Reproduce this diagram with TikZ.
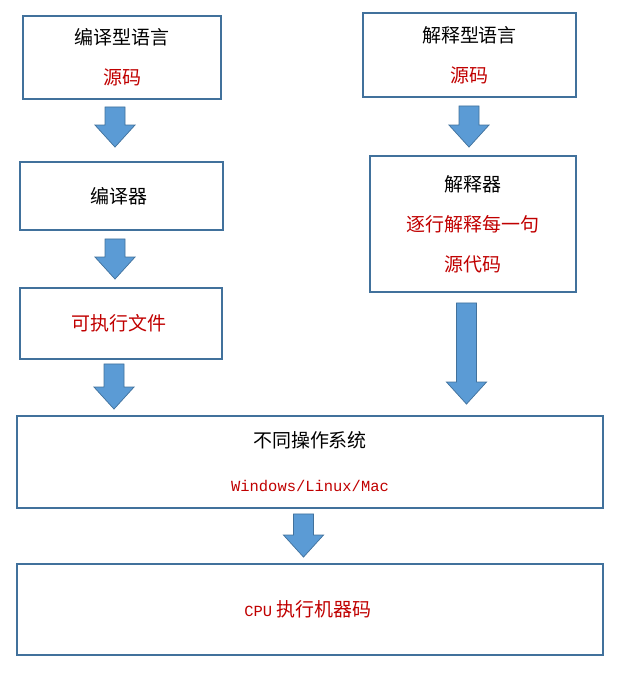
\documentclass[tikz,border=0pt]{standalone}
\usepackage{fontspec}
\setmainfont{Noto Sans CJK SC}
\newfontfamily\latinmono{Liberation Mono}
\usetikzlibrary{calc}
\definecolor{boxline}{RGB}{65,113,156}
\definecolor{arrowfill}{RGB}{91,155,213}
\definecolor{textred}{RGB}{192,0,0}
\newcommand{\monotext}[1]{{\latinmono\fontsize{11}{28.5}\selectfont #1}}
% block arrow from top of the shaft (#1) down to the tip (#2)
\newcommand{\blockarrow}[2]{
    \draw[bigarrow] let \p1=(#1), \p2=(#2) in
        (\x1-0.25cm,\y1) -- (\x1-0.25cm,\y2+0.55cm) -- (\x1-0.5cm,\y2+0.55cm) -- (\x1,\y2)
        -- (\x1+0.5cm,\y2+0.55cm) -- (\x1+0.25cm,\y2+0.55cm) -- (\x1+0.25cm,\y1) -- cycle;
}

\begin{document}
\begin{tikzpicture}[
        box/.style={rectangle, draw=boxline, line width=1.3pt, align=center, inner sep=0pt,
            font=\fontsize{13.5}{28.5}\selectfont},
        bigarrow/.style={draw=boxline, fill=arrowfill, line width=0.5pt, line join=miter}
    ]
        \useasboundingbox (0,0) rectangle (15.8,-16.875);

        % Boxes
        \node[box, minimum width=4.95cm, minimum height=2.075cm] (compiled) at (3.05,-1.4375) {
            编译型语言\\
            \textcolor{textred}{源码}
        };

        \node[box, minimum width=5.325cm, minimum height=2.1cm] (interpreted) at (11.7375,-1.375) {
            解释型语言\\
            \textcolor{textred}{源码}
        };

        \node[box, minimum width=5.075cm, minimum height=1.7cm] (compiler) at (3.0375,-4.9) {
            编译器
        };

        \node[box, minimum width=5.15cm, minimum height=3.4cm] (interpreter) at (11.825,-5.6) {
            解释器\\
            \textcolor{textred}{逐行解释每一句}\\
            \textcolor{textred}{源代码}
        };

        \node[box, minimum width=5.05cm, minimum height=1.775cm] (exefile) at (3.025,-8.0875) {
            \textcolor{textred}{可执行文件}
        };

        \node[box, minimum width=14.65cm, minimum height=2.3cm] (os) at (7.75,-11.55) {
            不同操作系统\\[0.1cm]
            \textcolor{textred}{\monotext{Windows/Linux/Mac}}
        };

        \node[box, minimum width=14.65cm, minimum height=2.275cm] (cpu) at (7.75,-15.2375) {
            \textcolor{textred}{\monotext{CPU} 执行机器码}
        };

        % Arrows
        \blockarrow{[xshift=-0.175cm, yshift=-0.175cm]compiled.south}{[xshift=-0.1625cm, yshift=0.35cm]compiler.north}
        \blockarrow{[xshift=-0.1625cm, yshift=-0.2cm]compiler.south}{[xshift=-0.1625cm, yshift=0.2cm]exefile.north}
        \blockarrow{[xshift=-0.175cm, yshift=-0.1cm]exefile.south}{[xshift=-4.9cm, yshift=0.15cm]os.north}
        \blockarrow{[xshift=-0.0125cm, yshift=-0.2cm]interpreted.south}{[xshift=-0.1cm, yshift=0.2cm]interpreter.north}
        \blockarrow{[xshift=-0.1625cm, yshift=-0.25cm]interpreter.south}{[xshift=3.9125cm, yshift=0.275cm]os.north}
        \blockarrow{[xshift=-0.1625cm, yshift=-0.125cm]os.south}{[xshift=-0.1625cm, yshift=0.15cm]cpu.north}
    \end{tikzpicture}
\end{document}
